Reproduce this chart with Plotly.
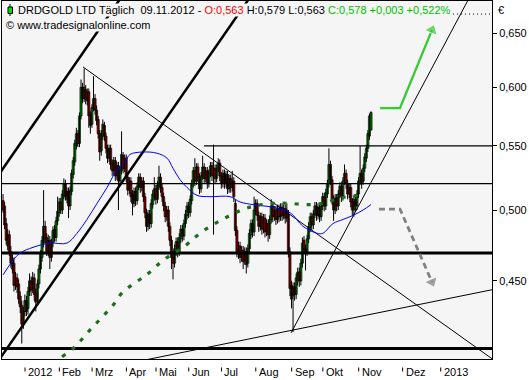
import numpy as np
import plotly.graph_objects as go

# ---------------- data ----------------
# trading-day index: 0 = 2 Jan 2012 (German trading calendar), first candle mid Dec 2011
FIRST_DAY = -16
OPEN = [
    .507,.503,.490,.474,.482,.470,.458,.462,.447,.452,
    .448,.440,.434,.423,.430,.437,.432,.443,.450,.445,
    .452,.442,.437,.448,.458,.466,.476,.488,.480,.470,
    .478,.466,.476,.486,.480,.492,.498,.506,.500,.511,
    .520,.508,.514,.503,.514,.527,.537,.550,.560,.552,
    .575,.600,.590,.598,.588,.596,.576,.568,.582,.590,
    .580,.572,.560,.546,.558,.567,.558,.548,.540,.548,
    .536,.530,.538,.526,.534,.522,.530,.542,.532,.540,
    .525,.515,.522,.512,.505,.514,.507,.518,.525,.517,
    .522,.510,.498,.488,.497,.490,.504,.510,.516,.508,
    .518,.525,.517,.510,.503,.495,.500,.488,.478,.466,
    .462,.470,.477,.470,.479,.486,.481,.490,.496,.503,
    .498,.507,.520,.530,.522,.533,.525,.516,.526,.533,
    .524,.530,.520,.528,.534,.526,.532,.524,.532,.536,
    .526,.520,.528,.520,.527,.516,.524,.517,.522,.505,
    .485,.468,.474,.466,.471,.464,.470,.462,.472,.482,
    .490,.484,.499,.505,.496,.488,.495,.486,.494,.484,
    .490,.482,.493,.503,.495,.500,.493,.501,.495,.502,
    .496,.501,.494,.497,.470,.447,.440,.446,.441,.450,
    .456,.450,.462,.478,.472,.470,.479,.487,.495,.489,
    .497,.503,.496,.502,.495,.503,.510,.503,.512,.520,
    .535,.523,.508,.500,.509,.503,.512,.518,.510,.522,
    .528,.520,.512,.517,.506,.500,.508,.503,.512,.522,
    .528,.522,.532,.540,.548,.558,.563]
HIGH = [
    .512,.506,.494,.486,.485,.474,.468,.466,.456,.455,
    .451,.443,.437,.433,.441,.440,.446,.455,.453,.456,
    .455,.445,.451,.461,.471,.481,.515,.492,.483,.482,
    .481,.479,.488,.489,.495,.510,.509,.509,.515,.524,
    .523,.517,.517,.518,.531,.541,.555,.565,.563,.578,
    .607,.604,.617,.602,.599,.599,.579,.585,.610,.594,
    .584,.575,.563,.563,.572,.570,.561,.551,.551,.551,
    .539,.541,.541,.537,.537,.533,.562,.545,.543,.543,
    .528,.525,.525,.515,.517,.517,.521,.528,.528,.525,
    .525,.513,.501,.500,.500,.508,.515,.525,.519,.522,
    .534,.528,.520,.513,.506,.503,.503,.491,.481,.470,
    .475,.480,.480,.483,.489,.489,.493,.500,.506,.506,
    .511,.523,.533,.540,.536,.536,.528,.529,.542,.536,
    .533,.533,.531,.537,.537,.551,.535,.535,.540,.539,
    .529,.531,.531,.530,.530,.527,.527,.530,.525,.508,
    .488,.477,.477,.474,.474,.473,.473,.475,.486,.493,
    .493,.510,.508,.508,.499,.498,.498,.497,.497,.493,
    .493,.496,.508,.506,.503,.503,.504,.504,.505,.505,
    .504,.504,.505,.500,.473,.450,.449,.449,.455,.459,
    .459,.465,.480,.481,.475,.482,.491,.498,.498,.500,
    .506,.506,.505,.505,.506,.513,.513,.516,.523,.548,
    .538,.526,.511,.512,.512,.515,.521,.521,.525,.535,
    .531,.523,.520,.520,.509,.511,.511,.515,.525,.550,
    .531,.535,.544,.551,.563,.577,.579]
LOW = [
    .498,.486,.475,.471,.467,.459,.455,.443,.444,.442,
    .435,.429,.410,.419,.427,.427,.428,.440,.440,.442,
    .437,.430,.434,.445,.455,.463,.473,.476,.467,.467,
    .458,.463,.473,.477,.477,.489,.495,.497,.497,.508,
    .507,.505,.494,.500,.511,.524,.534,.547,.549,.549,
    .572,.586,.587,.585,.584,.565,.560,.565,.579,.576,
    .567,.556,.538,.542,.555,.554,.544,.536,.537,.531,
    .526,.527,.522,.523,.500,.519,.527,.528,.529,.521,
    .511,.512,.506,.496,.502,.503,.504,.515,.513,.514,
    .506,.494,.484,.485,.486,.487,.501,.507,.504,.505,
    .515,.513,.506,.499,.491,.492,.484,.474,.458,.451,
    .459,.467,.466,.467,.476,.477,.478,.487,.493,.494,
    .495,.504,.517,.518,.519,.521,.512,.513,.523,.520,
    .521,.516,.517,.525,.522,.482,.520,.521,.529,.522,
    .516,.517,.516,.517,.512,.513,.513,.514,.506,.481,
    .466,.465,.462,.463,.458,.461,.455,.459,.469,.479,
    .480,.481,.496,.492,.484,.485,.482,.483,.480,.481,
    .477,.479,.490,.491,.492,.489,.490,.491,.492,.492,
    .493,.490,.491,.466,.440,.432,.417,.437,.438,.447,
    .446,.447,.459,.468,.457,.467,.476,.484,.485,.486,
    .494,.492,.493,.491,.492,.500,.499,.500,.509,.517,
    .519,.504,.492,.497,.499,.500,.509,.506,.507,.519,
    .516,.508,.509,.502,.496,.495,.499,.500,.509,.519,
    .516,.519,.529,.537,.545,.555,.563]
CLOSE = [
    .500,.489,.478,.482,.470,.462,.465,.447,.452,.446,
    .438,.433,.422,.430,.437,.430,.443,.450,.444,.452,
    .441,.436,.448,.458,.468,.478,.488,.479,.470,.478,
    .466,.476,.485,.480,.492,.499,.506,.500,.512,.520,
    .510,.514,.503,.515,.528,.538,.552,.560,.552,.575,
    .600,.590,.600,.589,.596,.575,.567,.582,.590,.580,
    .571,.560,.545,.560,.568,.558,.548,.540,.548,.535,
    .530,.538,.526,.534,.522,.530,.543,.532,.540,.525,
    .515,.522,.510,.505,.514,.507,.518,.525,.517,.522,
    .510,.498,.488,.497,.490,.505,.512,.516,.508,.519,
    .525,.517,.510,.503,.495,.500,.488,.478,.466,.462,
    .472,.477,.470,.480,.486,.481,.490,.497,.503,.498,
    .508,.520,.530,.522,.533,.525,.516,.526,.533,.524,
    .530,.520,.528,.534,.526,.532,.524,.532,.536,.526,
    .520,.528,.520,.527,.516,.524,.517,.522,.510,.485,
    .470,.474,.466,.471,.463,.470,.461,.472,.483,.490,
    .484,.500,.505,.496,.488,.495,.486,.494,.484,.490,
    .482,.493,.503,.495,.500,.493,.501,.495,.502,.496,
    .501,.494,.500,.470,.445,.438,.446,.441,.452,.456,
    .450,.462,.476,.472,.470,.479,.488,.495,.489,.497,
    .503,.496,.502,.495,.503,.510,.503,.513,.520,.535,
    .523,.508,.500,.509,.503,.512,.518,.510,.522,.528,
    .520,.512,.517,.506,.500,.508,.503,.512,.522,.528,
    .520,.532,.541,.548,.560,.575,.578]

# blue moving average (sampled)
MA_BLUE_DAY = [-16, -9.6, -5.1, 3.2, 14.1, 25, 31.4, 37.8, 44.3, 50.7, 57.1, 62.2, 65.4,
               73.8, 82.7, 89.2, 93, 97.5, 102, 108.4, 116.7, 129.6, 136, 144.3, 157.2,
               168.1, 176.4, 185.4, 189.2, 195.6, 202, 208.5, 214.9, 220]
MA_BLUE = [.454, .464, .469, .473, .476, .476, .483, .493, .505, .517, .531, .537, .543,
           .545, .544, .540, .532, .523, .517, .511, .510, .510, .506, .504, .502,
           .498, .488, .483, .483, .490, .493, .496, .500, .504]
# green dotted long moving average (sampled)
MA_GREEN_DAY = [21.8, 30.1, 38.5, 46.2, 54.5, 60.3, 73.1, 78.3, 86.6, 100.7, 110.3, 119.9,
                129.6, 139.2, 145.6, 156.5, 166.8, 179, 189.2, 200.1, 211, 216.2]
MA_GREEN = [.402, .408, .417, .425, .434, .442, .452, .456, .464, .474, .483, .490,
            .496, .501, .503, .505, .505, .504, .505, .509, .511, .513]

# horizontal levels
LEVEL_550 = 0.550
LEVEL_550_START = 112.9
LEVEL_520 = 0.520
LEVEL_THICK = [0.469, 0.407]
LEVEL_TOP = 0.669
LEVEL_TOP_START = 270.0

# trendline anchors (day, price)
LINE_A = ([-16.7, 32.1], [0.5306, 0.625])
LINE_B = ([-12.8, 96.9], [0.408, 0.589])
LINE_C = ([35.3, 283.5], [0.6184, 0.4103])
LINE_D = ([168.7, 238.6], [0.4165, 0.5648])
LINE_E = ([136.0, 283.5], [0.4117, 0.4412])

# arrows
UP_ARROW_DAY = [225.8, 238.6, 259.1]
UP_ARROW_P = [0.5818, 0.5818, 0.6533]
DN_ARROW_DAY = [225.1, 238.6, 259.1]
DN_ARROW_P = [0.5007, 0.5007, 0.4493]

# x-axis labels (month-start trading index; last two are projection)
MONTH_LABELS = ["2012", "Feb", "Mrz", "Apr", "Mai", "Jun", "Jul", "Aug", "Sep", "Okt", "Nov", "Dez", "2013"]
MONTH_START = [0, 22, 43, 65, 84, 105, 126, 148, 171, 191, 214, 242.2, 266.6]
Y_TICKS = [0.45, 0.50, 0.55, 0.60, 0.65]

# ---------------- figure ----------------
XMIN, XMAX = -16.68, 297.6
YMIN, YMAX = 0.40069, 0.6821
TICK_SHIFT = -1.9
BG = "#f5f5f5"

days = list(range(FIRST_DAY, FIRST_DAY + len(CLOSE)))
fig = go.Figure()

# wicks
wx, wy = [], []
for d, h, l in zip(days, HIGH, LOW):
    wx += [d, d, None]
    wy += [l, h, None]
fig.add_trace(go.Scatter(x=wx, y=wy, mode="lines", line=dict(color="black", width=1),
                         hoverinfo="skip"))

# bodies
ux, ub, uh, dx, db, dh = [], [], [], [], [], []
for d, o, c in zip(days, OPEN, CLOSE):
    if c >= o:
        ux.append(d); ub.append(o); uh.append(max(c - o, 0.0005))
    else:
        dx.append(d); db.append(c); dh.append(o - c)
fig.add_trace(go.Bar(x=ux, y=uh, base=ub, width=1.35,
                     marker=dict(color="#00e800", line=dict(color="black", width=0.7))))
fig.add_trace(go.Bar(x=dx, y=dh, base=db, width=1.35,
                     marker=dict(color="#ff0000", line=dict(color="black", width=0.7))))


def seg(anchor, x_from, x_to):
    (x0, x1), (p0, p1) = anchor
    l0, l1 = np.log(p0), np.log(p1)
    k = (l1 - l0) / (x1 - x0)
    xs = np.array([x_from, x_to])
    return list(xs), list(np.exp(l0 + k * (xs - x0)))


def add_line(xs, ys, width, color="black", dash=None):
    fig.add_trace(go.Scatter(x=xs, y=ys, mode="lines", hoverinfo="skip",
                             line=dict(color=color, width=width, dash=dash)))


# horizontal levels
add_line([LEVEL_550_START, XMAX + 5], [LEVEL_550] * 2, 1.2)
add_line([XMIN - 5, XMAX + 5], [LEVEL_520] * 2, 1.2)
for lv in LEVEL_THICK:
    add_line([XMIN - 5, XMAX + 5], [lv, lv], 3)
add_line([LEVEL_TOP_START, XMAX + 5], [LEVEL_TOP] * 2, 1, dash="1px,3px")

# trendlines
add_line(*seg(LINE_A, -40, 200), 2.5)
add_line(*seg(LINE_B, -40, 300), 2.5)
add_line(*seg(LINE_C, LINE_C[0][0], 330), 1)
add_line(*seg(LINE_D, LINE_D[0][0], 330), 1)
add_line(*seg(LINE_E, 60, 330), 1)

# moving averages
fig.add_trace(go.Scatter(x=MA_BLUE_DAY, y=MA_BLUE, mode="lines", line_shape="spline",
                         line=dict(color="#0000ff", width=1), hoverinfo="skip"))
fig.add_trace(go.Scatter(x=MA_GREEN_DAY, y=MA_GREEN, mode="lines", line_shape="spline",
                         line=dict(color="#1e6e1e", width=3.2, dash="4px,8px"), hoverinfo="skip"))

# arrows
fig.add_trace(go.Scatter(x=UP_ARROW_DAY, y=UP_ARROW_P, mode="lines+markers",
                         line=dict(color="#33cc33", width=2.2),
                         marker=dict(symbol="triangle-up", size=[0, 0, 12], color="#33cc33",
                                     angleref="previous"), hoverinfo="skip"))
fig.add_trace(go.Scatter(x=DN_ARROW_DAY, y=DN_ARROW_P, mode="lines+markers",
                         line=dict(color="#808080", width=2.8, dash="6px,4px"),
                         marker=dict(symbol="triangle-up", size=[0, 0, 12], color="#808080",
                                     angleref="previous"), hoverinfo="skip"))

FONT = "Liberation Sans, Arial, sans-serif"
anns = []
header = ("DRDGOLD LTD Täglich\u00a0\u00a009.11.2012 - "
          "<span style='color:#ff0000'>O:0,563</span> H:0,579 L:0,563 "
          "<span style='color:#00c000'>C:0,578 +0,003 +0,522%</span>")
anns.append(dict(text=header, x=15 / 490, y=(359 - 10) / 358, xref="paper", yref="paper",
                 xanchor="left", yanchor="middle", showarrow=False, bgcolor=BG,
                 borderpad=0, font=dict(family=FONT, size=11, color="black")))
anns.append(dict(text="© www.tradesignalonline.com", x=3 / 490, y=(359 - 25) / 358,
                 xref="paper", yref="paper", xanchor="left", yanchor="middle",
                 showarrow=False, bgcolor=BG, borderpad=0,
                 font=dict(family=FONT, size=11, color="black")))
anns.append(dict(text="€", x=(496 - 2) / 490, y=(359 - 10) / 358, xref="paper", yref="paper",
                 xanchor="left", yanchor="middle", showarrow=False,
                 font=dict(family=FONT, size=11, color="black")))

shapes = []
for lab, ms in zip(MONTH_LABELS, MONTH_START):
    t = ms + TICK_SHIFT
    xp = (t - XMIN) / (XMAX - XMIN)
    anns.append(dict(text=lab, x=xp, y=-(372.5 - 359) / 358, xref="paper", yref="paper",
                     xanchor="left", yanchor="middle", xshift=1, showarrow=False,
                     font=dict(family=FONT, size=11, color="black")))
    shapes.append(dict(type="line", xref="paper", yref="paper", x0=xp, x1=xp,
                       y0=-(367.5 - 359) / 358, y1=-(371.5 - 359) / 358,
                       line=dict(color="black", width=1)))

# header icon (small green candle)
def px2p(x, y):
    return (x - 2) / 490, (359 - y) / 358

ix0, iy0 = px2p(10, 4)
ix1, iy1 = px2p(10, 16)
shapes.append(dict(type="line", xref="paper", yref="paper", x0=ix0, x1=ix1, y0=iy0, y1=iy1,
                   line=dict(color="black", width=1)))
rx0, ry0 = px2p(8, 7)
rx1, ry1 = px2p(12.5, 13.5)
shapes.append(dict(type="rect", xref="paper", yref="paper", x0=rx0, x1=rx1, y0=ry0, y1=ry1,
                   fillcolor="#00e000", line=dict(color="black", width=1)))

fig.update_layout(
    width=529, height=380,
    margin=dict(l=2, r=37, t=1, b=21),
    paper_bgcolor="white", plot_bgcolor=BG,
    showlegend=False, barmode="overlay",
    separators=",.",
    annotations=anns, shapes=shapes,
    font=dict(family=FONT, size=11, color="black"),
    xaxis=dict(range=[XMIN, XMAX], showgrid=False, zeroline=False, showticklabels=False,
               ticks="", showline=True, linecolor="black", linewidth=1, mirror=True),
    yaxis=dict(type="log", range=[np.log10(YMIN), np.log10(YMAX)], side="right",
               showgrid=False, zeroline=False, tickvals=Y_TICKS, tickformat=".3f",
               ticks="outside", ticklen=4, tickcolor="black", tickwidth=1,
               showline=True, linecolor="black", linewidth=1, mirror=True,
               tickfont=dict(family=FONT, size=11, color="black")),
)

fig.write_html("out.html")
